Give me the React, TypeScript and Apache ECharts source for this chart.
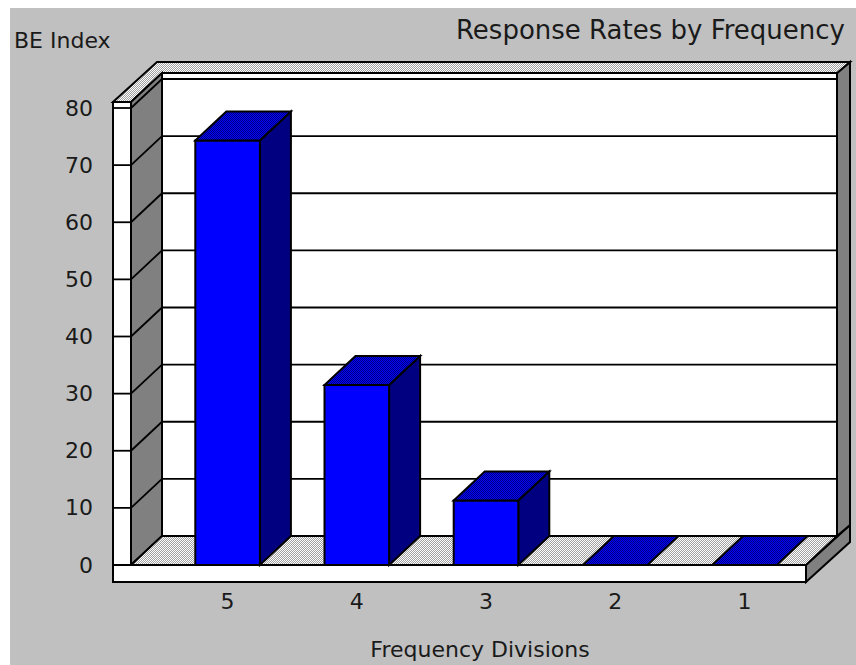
import React, { useEffect, useRef } from 'react';
import * as echarts from 'echarts';

// Data
const categories = ['5', '4', '3', '2', '1'];
const beIndex = [74.3, 31.5, 11.3, 0, 0];
const yMin = 0;
const yMax = 80;
const yStep = 10;

// Styling
const FONT = '"DejaVu Sans", "Liberation Sans", sans-serif';
const INK = '#1a1a1a';
const FACE_BLUE = '#0000ff';
const SIDE_BLUE = '#000080';
const WALL_GRAY = '#808080';
const WHITE = '#ffffff';
const BG = '#c0c0c0';
const DEPTH: [number, number] = [31, 29]; // front plane -> back wall
const FULL: [number, number] = [44, 40]; // front plane -> back of back wall
const BASE_H = 17;
const OUTLINE = { stroke: '#000000', lineWidth: 2 };

function checker(a: string, b: string) {
  const c = document.createElement('canvas');
  c.width = 2;
  c.height = 2;
  const ctx = c.getContext('2d')!;
  ctx.fillStyle = a;
  ctx.fillRect(0, 0, 2, 2);
  ctx.fillStyle = b;
  ctx.fillRect(0, 0, 1, 1);
  ctx.fillRect(1, 1, 1, 1);
  return { image: c.toDataURL(), repeat: 'repeat', imageWidth: 2, imageHeight: 2 };
}

function poly(points: number[][], fill: any) {
  return { type: 'polygon', shape: { points }, style: { fill, ...OUTLINE } };
}

function box(x0: number, y0: number, x1: number, y1: number, fill: any) {
  return {
    type: 'rect',
    shape: { x: x0, y: y0, width: x1 - x0, height: y1 - y0 },
    style: { fill, ...OUTLINE },
  };
}

function line(x1: number, y1: number, x2: number, y2: number) {
  return { type: 'line', shape: { x1, y1, x2, y2 }, style: { stroke: '#000000', lineWidth: 1.8 } };
}

export default function App() {
  const ref = useRef<HTMLDivElement>(null);

  useEffect(() => {
    document.body.style.margin = '0';
    if (!ref.current) return;
    const chart = echarts.init(ref.current, null, { renderer: 'svg' });

    const grayHatch = checker('#a0a0a0', '#ffffff');
    const blueHatch = checker(FACE_BLUE, SIDE_BLUE);

    // Walls, floor and gridlines of the 3D box
    const frameItem = (params: any, api: any) => {
      const cs = params.coordSys;
      const gx = cs.x;
      const R = cs.x + cs.width - 3;
      const y0 = api.coord([0, yMin])[1];
      const yTop = api.coord([0, yMax])[1] - 6;
      const L0 = gx - 50;
      const L1 = gx - 32;
      const [dx, dy] = DEPTH;
      const [fx, fy] = FULL;
      const children: any[] = [];

      children.push(poly([[R, y0], [R, y0 + BASE_H], [R + fx, y0 + BASE_H - fy], [R + fx, y0 - fy]], WALL_GRAY));
      children.push(poly([[R + dx, yTop - dy], [R + fx, yTop - fy], [R + fx, y0 - fy], [R + dx, y0 - dy]], WALL_GRAY));
      children.push(box(L1 + dx, yTop - dy, R + dx, y0 - dy, WHITE));
      children.push(
        poly(
          [[L0, yTop], [L0 + fx, yTop - fy], [R + fx, yTop - fy], [R + dx, yTop - dy], [L1 + dx, yTop - dy], [L1, yTop]],
          grayHatch
        )
      );
      children.push(poly([[L1, yTop], [L1 + dx, yTop - dy], [L1 + dx, y0 - dy], [L1, y0]], WALL_GRAY));
      children.push(box(L0, yTop, L1, y0, WHITE));

      for (let v = yMin + yStep; v <= yMax; v += yStep) {
        const yf = api.coord([0, v])[1];
        const yb = yf - dy;
        children.push(line(L1 + dx, yb, R + dx, yb));
        children.push(line(L1, yf, L1 + dx, yb));
        children.push(line(L0, yf, L1, yf));
      }

      children.push(poly([[L1, y0], [R, y0], [R + dx, y0 - dy], [L1 + dx, y0 - dy]], grayHatch));
      children.push(box(L0, y0, R, y0 + BASE_H, WHITE));
      return { type: 'group', children };
    };

    // 3D bars: front face, right side, hatched top
    const barItem = (params: any, api: any) => {
      const i = api.value(0);
      const v = api.value(1);
      const [cx, yv] = api.coord([i, v]);
      const y0 = api.coord([i, yMin])[1];
      const w = api.size([1, 0])[0] * 0.5;
      const x0 = cx - w / 2;
      const x1 = cx + w / 2;
      const [dx, dy] = DEPTH;
      const top = poly([[x0, yv], [x1, yv], [x1 + dx, yv - dy], [x0 + dx, yv - dy]], blueHatch);
      if (v <= yMin) return { type: 'group', children: [top] };
      return {
        type: 'group',
        children: [
          poly([[x1, yv], [x1 + dx, yv - dy], [x1 + dx, y0 - dy], [x1, y0]], SIDE_BLUE),
          box(x0, yv, x1, y0, FACE_BLUE),
          top,
        ],
      };
    };

    chart.setOption({
      animation: false,
      backgroundColor: BG,
      title: [
        {
          text: 'Response Rates by Frequency',
          right: 11,
          top: 17,
          padding: 0,
          textStyle: { fontFamily: FONT, fontSize: 26, fontWeight: 'normal', color: INK },
        },
        {
          text: 'BE Index',
          left: 14,
          top: 29,
          padding: 0,
          textStyle: { fontFamily: FONT, fontSize: 22, fontWeight: 'normal', color: INK },
        },
      ],
      graphic: [
        { type: 'rect', left: 0, top: 0, shape: { width: 856, height: 8 }, style: { fill: WHITE }, silent: true },
        { type: 'rect', left: 0, top: 0, shape: { width: 10, height: 665 }, style: { fill: WHITE }, silent: true },
      ],
      grid: { left: 163, right: 47, top: 108, bottom: 95 },
      xAxis: {
        type: 'category',
        data: categories,
        axisLine: { show: false },
        axisTick: { show: false },
        splitLine: { show: false },
        axisLabel: { margin: 25, fontSize: 22, fontFamily: FONT, color: INK },
        name: 'Frequency Divisions',
        nameLocation: 'middle',
        nameGap: 73,
        nameTextStyle: { fontSize: 22, fontFamily: FONT, color: INK, padding: [0, 12, 0, 0] },
      },
      yAxis: {
        type: 'value',
        min: yMin,
        max: yMax,
        interval: yStep,
        axisLine: { show: false },
        axisTick: { show: false },
        splitLine: { show: false },
        axisLabel: { margin: 70, fontSize: 22, fontFamily: FONT, color: INK },
      },
      series: [
        {
          type: 'custom',
          name: 'frame',
          z: 1,
          clip: false,
          silent: true,
          renderItem: frameItem,
          data: [[0, 0]],
          encode: { x: 0, y: 1 },
        },
        {
          type: 'custom',
          name: 'BE Index',
          z: 3,
          clip: false,
          renderItem: barItem,
          data: beIndex.map((v, i) => [i, v]),
          encode: { x: 0, y: 1 },
        },
      ],
    });

    return () => chart.dispose();
  }, []);

  return <div ref={ref} style={{ width: 856, height: 665 }} />;
}
